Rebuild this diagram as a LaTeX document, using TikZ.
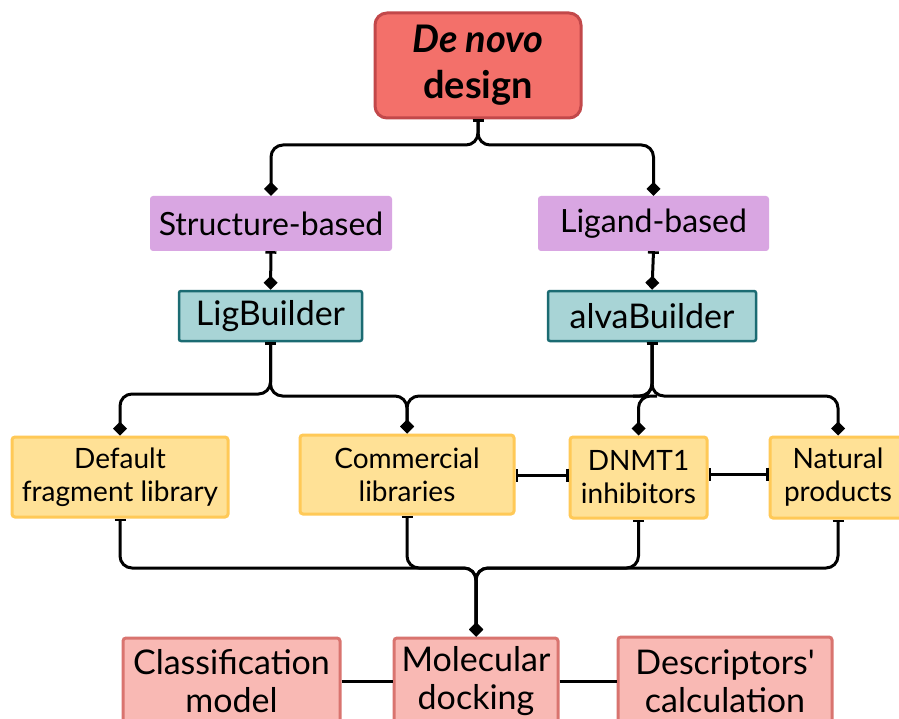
\documentclass[tikz,border=0pt]{standalone}
\usepackage{fontspec}
\setmainfont{Lato}
\usetikzlibrary{arrows.meta}
\definecolor{topfill}{HTML}{F3706A}
\definecolor{topdraw}{HTML}{C2484A}
\definecolor{purfill}{HTML}{D9A6E2}
\definecolor{tealfill}{HTML}{A8D4D6}
\definecolor{tealdraw}{HTML}{1B6B72}
\definecolor{yelfill}{HTML}{FFE196}
\definecolor{yeldraw}{HTML}{FFC957}
\definecolor{pinkfill}{HTML}{F9B9B4}
\definecolor{pinkdraw}{HTML}{D9746F}
\tikzset{
  x=1pt, y=-1pt,
  topbox/.style={fill=topfill, draw=topdraw, line width=3pt, rounded corners=12pt, align=center, inner sep=0pt, font=\fontsize{38}{46}\selectfont\bfseries},
  purbox/.style={fill=purfill, rounded corners=3pt, inner sep=0pt, font=\fontsize{32}{36}\selectfont},
  tealbox/.style={fill=tealfill, draw=tealdraw, line width=2.5pt, rounded corners=2pt, inner sep=0pt, font=\fontsize{34}{36}\selectfont},
  yelbox/.style={fill=yelfill, draw=yeldraw, line width=3pt, rounded corners=3pt, align=center, inner sep=0pt, font=\fontsize{28}{33}\selectfont},
  pinkbox/.style={fill=pinkfill, draw=pinkdraw, line width=3pt, rounded corners=3pt, align=center, inner sep=0pt, font=\fontsize{34}{38}\selectfont},
  conn/.style={line width=3pt, rounded corners=12pt, {Bar[width=11pt,line width=2.5pt]}-{Diamond[length=14pt,width=14pt]}},
  barconn/.style={line width=3pt, {Bar[width=13pt,line width=2.5pt]}-{Bar[width=13pt,line width=2.5pt]}},
  plainconn/.style={line width=3pt},
}
\begin{document}
\begin{tikzpicture}
\clip (0,0) rectangle (899,719);
\fill[white] (0,0) rectangle (899,719);

\node[topbox, minimum width=206pt, minimum height=105pt] (dn) at (478,65.5) {\textit{De novo}\\design};

\node[purbox, minimum width=242pt, minimum height=55pt] (sb) at (271,223.5) {Structure-based};
\node[purbox, minimum width=231pt, minimum height=55pt] (lb) at (653.5,223.5) {Ligand-based};

\node[tealbox, minimum width=183pt, minimum height=50pt] (lig) at (270.5,316) {LigBuilder};
\node[tealbox, minimum width=208pt, minimum height=50pt] (alva) at (652,316) {alvaBuilder};

\node[yelbox, minimum width=216pt, minimum height=80pt] (def) at (120,477) {Default\\fragment library};
\node[yelbox, minimum width=214pt, minimum height=79pt] (com) at (407,474.5) {Commercial\\libraries};
\node[yelbox, minimum width=137pt, minimum height=81pt] (dnmt) at (638.5,477.5) {DNMT1\\inhibitors};
\node[yelbox, minimum width=136pt, minimum height=81pt] (nat) at (838,477.5) {Natural\\products};

\node[pinkbox, minimum width=217pt, minimum height=86pt] (cls) at (231.5,681) {Classification\\model};
\node[pinkbox, minimum width=164pt, minimum height=86pt] (mol) at (476,681) {Molecular\\docking};
\node[pinkbox, minimum width=214pt, minimum height=88pt] (des) at (725,681) {Descriptors\textquotesingle\\calculation};

% top tree
\draw[conn] (dn.south) |- (400,145) -| (sb.north);
\draw[conn] (dn.south) |- (560,145) -| (lb.north);

\draw[conn] (sb.south) -- (lig.north);
\draw[conn] (lb.south) -- (alva.north);

% builders to libraries
\draw[conn] (lig.south) |- (200,394) -| (def.north);
\draw[conn] (lig.south) |- (340,396) -| (com.north);
\draw[conn] (alva.south) |- (520,396) -| (com.north);
\draw[conn] (alva.south) |- (645,396) -| (dnmt.north);
\draw[conn] (alva.south) |- (750,396) -| (nat.north);

% horizontal links
\draw[barconn] (com.east |- 0,475) -- (dnmt.west |- 0,475);
\draw[barconn] (dnmt.east |- 0,474) -- (nat.west |- 0,474);

% libraries to docking
\draw[conn] (def.south) |- (300,568) -| (mol.north);
\draw[conn] (com.south) |- (440,568) -| (mol.north);
\draw[conn] (dnmt.south) |- (520,568) -| (mol.north);
\draw[conn] (nat.south) |- (650,568) -| (mol.north);

% bottom links
\draw[plainconn] (cls.east |- 0,681) -- (mol.west |- 0,681);
\draw[plainconn] (mol.east |- 0,681) -- (des.west |- 0,681);
\end{tikzpicture}
\end{document}
